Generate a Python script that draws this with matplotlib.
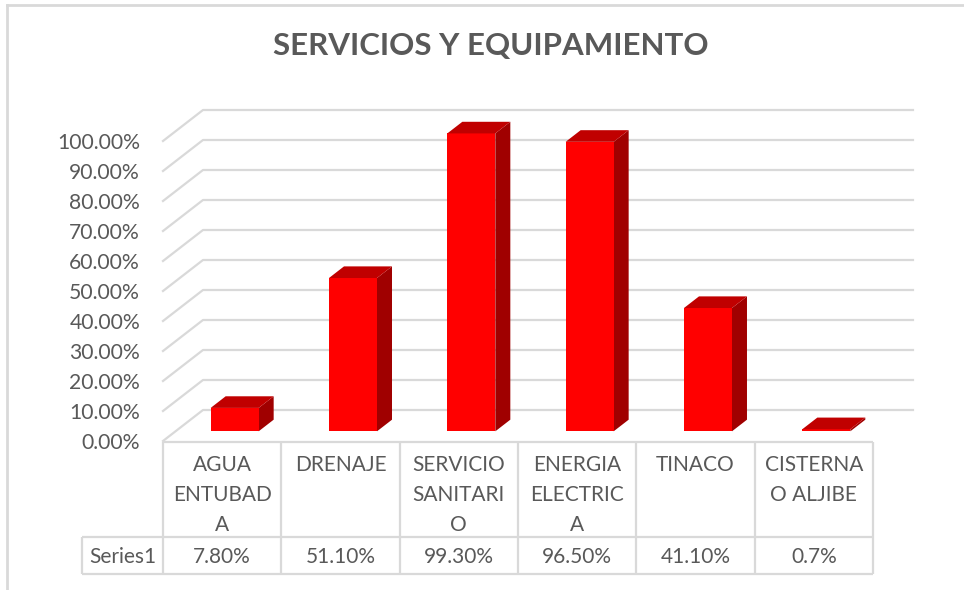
import matplotlib
matplotlib.use("Agg")
import matplotlib.pyplot as plt
from matplotlib.patches import Polygon
from matplotlib.lines import Line2D

# ---------------- data ----------------
categories = ["AGUA\nENTUBAD\nA", "DRENAJE", "SERVICIO\nSANITARI\nO",
              "ENERGIA\nELECTRIC\nA", "TINACO", "CISTERNA\nO ALJIBE"]
values = [7.8, 51.1, 99.3, 96.5, 41.1, 0.7]
value_labels = ["7.80%", "51.10%", "99.30%", "96.50%", "41.10%", "0.7%"]
series_name = "Series1"
yticks = [0, 10, 20, 30, 40, 50, 60, 70, 80, 90, 100]
title = "SERVICIOS Y EQUIPAMIENTO"

# ---------------- styles ----------------
W, H = 964, 590
FONT = "Lato"
TXT = "#595959"
GRID = "#D9D9D9"
FRONT = "#FF0000"
TOP = "#C00000"
SIDE = "#A00000"

fig = plt.figure(figsize=(W / 100, H / 100), dpi=100)

def px_axes(x0, y0, x1, y1, **kw):
    return fig.add_axes([x0 / W, 1 - y1 / H, (x1 - x0) / W, (y1 - y0) / H], **kw)

# chart frame (top and left edges visible)
fig.add_artist(Line2D([7 / W, 7 / W], [0, 1 - 5 / H], transform=fig.transFigure, color=GRID, lw=2))
fig.add_artist(Line2D([7 / W, 1], [1 - 5 / H, 1 - 5 / H], transform=fig.transFigure, color=GRID, lw=2))

# title (figure pixel position)
fig.text(491 / W, 1 - 46 / H, title, ha="center", va="center", fontsize=22.5,
         fontweight="bold", color=TXT, family=FONT)

# plot geometry
cat_px = 118.33          # width of one category in pixels
front_left, zero_y, per_pct = 163, 441, 3.0
depth_dx_px, depth_dy_px = 40, 31
ddx = depth_dx_px / cat_px        # depth offset in category units
ddy = depth_dy_px / per_pct       # depth offset in value units
n = len(categories)

xlim = (-0.5, n - 0.5 + ddx)
ylim = (0, 100 + ddy)
ax = px_axes(front_left, zero_y - per_pct * ylim[1],
             front_left + cat_px * (xlim[1] - xlim[0]), zero_y)
ax.set_xlim(*xlim)
ax.set_ylim(*ylim)
ax.axis("off")

# gridlines (left wall diagonal + back wall horizontal)
for v in yticks:
    ax.plot([-0.5, -0.5 + ddx, n - 0.5 + ddx], [v, v + ddy, v + ddy],
            color=GRID, lw=1.6, clip_on=False, zorder=1)
    ax.text(-0.5 - 23 / cat_px, v - 0.8, f"{v:.2f}%", ha="right", va="center",
            fontsize=15.2, color=TXT, family=FONT)

# bars (pseudo 3D)
bw = 48 / cat_px
f0, f1 = 0.3125, 0.6875
for i, v in enumerate(values):
    xl = i - bw / 2 + ddx * f0
    xr = i + bw / 2 + ddx * f0
    yb = ddy * f0
    yt = v + ddy * f0
    ox, oy = ddx * (f1 - f0), ddy * (f1 - f0)
    front = Polygon([(xl, yb), (xr, yb), (xr, yt), (xl, yt)], closed=True,
                    facecolor=FRONT, edgecolor="none", zorder=3 + i, clip_on=False)
    top = Polygon([(xl, yt), (xr, yt), (xr + ox, yt + oy), (xl + ox, yt + oy)], closed=True,
                  facecolor=TOP, edgecolor="none", zorder=3 + i, clip_on=False)
    side = Polygon([(xr, yb), (xr + ox, yb + oy), (xr + ox, yt + oy), (xr, yt)], closed=True,
                   facecolor=SIDE, edgecolor="none", zorder=3 + i, clip_on=False)
    for p in (side, front, top):
        ax.add_patch(p)

# ---------------- data table ----------------
tbl_left_px = 82
tbl_top, tbl_mid, tbl_bot = 442, 537, 574
tx0 = -0.5 - (front_left - tbl_left_px) / cat_px
tax = px_axes(tbl_left_px, tbl_top, front_left + cat_px * n, tbl_bot)
tax.set_xlim(tx0, n - 0.5)
tax.set_ylim(tbl_bot, tbl_top)
tax.axis("off")

lk = dict(color=GRID, lw=1.6, clip_on=False, solid_capstyle="butt")
tax.plot([-0.5, n - 0.5], [tbl_top, tbl_top], **lk)
tax.plot([tx0, n - 0.5], [tbl_mid, tbl_mid], **lk)
tax.plot([tx0, n - 0.5], [tbl_bot, tbl_bot], **lk)
tax.plot([tx0, tx0], [tbl_mid, tbl_bot], **lk)
for k in range(n + 1):
    tax.plot([k - 0.5, k - 0.5], [tbl_top, tbl_bot], **lk)

TFS = 15
for i, (c, lab) in enumerate(zip(categories, value_labels)):
    for j, line in enumerate(c.split("\n")):
        tax.text(i, 465 + 30 * j, line, ha="center", va="center",
                 fontsize=TFS, color=TXT, family=FONT)
    tax.text(i, 557, lab, ha="center", va="center", fontsize=TFS, color=TXT, family=FONT)
tax.text((tx0 - 0.5) / 2, 557, series_name, ha="center", va="center",
         fontsize=TFS, color=TXT, family=FONT)

fig.savefig("out.png", dpi=100, facecolor="white")
